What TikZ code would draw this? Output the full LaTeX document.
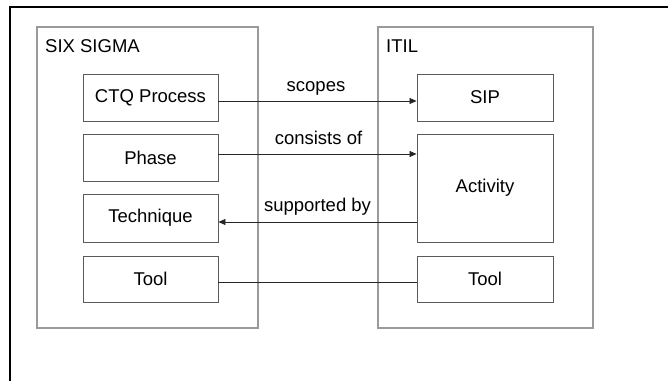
\documentclass[tikz,border=0pt]{standalone}
\usepackage{fontspec}
\setmainfont{Liberation Sans}
\usetikzlibrary{arrows.meta}
\definecolor{grpgray}{HTML}{9A9A9A}
\definecolor{boxgray}{HTML}{5A5A5A}
\tikzset{
  grpbox/.style={draw=grpgray, line width=1.1pt, minimum width=#1, inner sep=0pt},
  itembox/.style={draw=boxgray, line width=0.9pt, minimum width=135pt, inner sep=0pt, font=\fontsize{18.5}{22}\selectfont},
  grplabel/.style={anchor=base west, inner sep=0pt, font=\fontsize{18.5}{22}\selectfont},
  linklabel/.style={anchor=base, inner sep=0pt, font=\fontsize{18.5}{22}\selectfont},
  link/.style={draw=black!85, line width=0.7pt},
  tip/.style={-{Triangle[length=7pt,width=6pt]}}
}
\begin{document}
\begin{tikzpicture}[x=1pt,y=-1pt]
\useasboundingbox (0,0) rectangle (668,380);
\clip (0,0) rectangle (668,380);
% outer frame (only top and left edges visible)
\draw[line width=2.4pt, black] (10,400) -- (10,7) -- (690,7);
% group boxes
\node[grpbox=221pt, minimum height=301pt] (six) at (147.5,177.5) {};
\node[grpbox=215pt, minimum height=301pt] (itil) at (485.5,177.5) {};
\node[grplabel] (sixlbl) at (45,52) {SIX SIGMA};
\node[grplabel] (itillbl) at (386,52) {ITIL};
% left items
\node[itembox, minimum height=47pt] (ctq) at (150.5,97.5) {CTQ Process};
\node[itembox, minimum height=47pt] (phase) at (150.5,157.5) {Phase};
\node[itembox, minimum height=48pt] (tech) at (150.5,218) {Technique};
\node[itembox, minimum height=46pt] (tool1) at (150.5,279) {Tool};
% right items
\node[itembox, minimum width=136pt, minimum height=47pt] (sip) at (485,97.5) {SIP};
\node[itembox, minimum width=136pt, minimum height=108pt] (act) at (485,188) {Activity};
\node[itembox, minimum width=136pt, minimum height=46pt] (tool2) at (485,279) {Tool};
% connectors
\draw[link, tip] (ctq.east |- 0,101) -- (sip.west |- 0,101);
\draw[link, tip] (phase.east |- 0,154) -- (act.west |- 0,154);
\draw[link, tip] (act.west |- 0,222) -- (tech.east |- 0,222);
\draw[link] (tool1.east |- 0,282.5) -- (tool2.west |- 0,282.5);
% labels
\node[linklabel] (l1) at (316,91) {scopes};
\node[linklabel] (l2) at (318.5,144) {consists of};
\node[linklabel] (l3) at (317.5,211.5) {supported by};
\end{tikzpicture}
\end{document}
